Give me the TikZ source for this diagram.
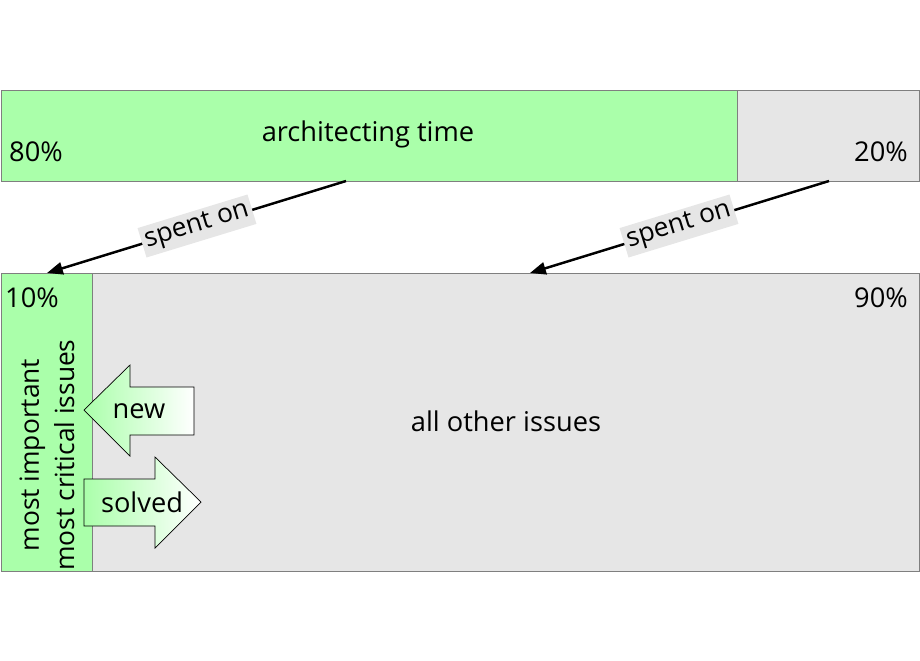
\documentclass[tikz,border=0pt]{standalone}
\usepackage{fontspec}
\setmainfont{Open Sans}
\usetikzlibrary{arrows.meta}
\definecolor{lgreen}{HTML}{AAFFAA}
\definecolor{lgray}{HTML}{E6E6E6}
\definecolor{bord}{HTML}{7F7F7F}
\begin{document}
\begin{tikzpicture}[x=0.02cm,y=-0.02cm,
  lbl/.style={font=\fontsize{15.5}{16.5}\selectfont,inner sep=0pt},
  boxg/.style={fill=lgreen,draw=bord,line width=0.4pt},
  boxy/.style={fill=lgray,draw=bord,line width=0.4pt},
  conn/.style={-{Triangle[length=9pt,width=7pt]},line width=1.4pt},
  spent/.style={fill=lgray,inner sep=2pt,font=\fontsize{15}{16}\selectfont,rotate=17},
  blk/.style={draw=black,line width=0.4pt,left color=lgreen,right color=white}]
\useasboundingbox (0,0) rectangle (920,660);
\draw[boxg] (1,90) rectangle (737,181);
\draw[boxy] (737,90) rectangle (919,181);
\draw[boxg] (1,273) rectangle (92,571);
\draw[boxy] (92,273) rectangle (919,571);
\node[lbl] (arch) at (368,134) {architecting time};
\node[lbl] (p80) at (36,152) {80\%};
\node[lbl] (p20) at (881,152) {20\%};
\node[lbl] (p10) at (32,298) {10\%};
\node[lbl] (p90) at (881,298) {90\%};
\node[lbl] (other) at (506,421) {all other issues};
\node[lbl,rotate=90,align=center,font=\fontsize{15}{20}\selectfont] (imp) at (47,455) {most important\\most critical issues};
\coordinate (a1) at (346,181); \coordinate (b1) at (47,273);
\coordinate (a2) at (829,181); \coordinate (b2) at (530,273);
\draw[conn] (a1) -- (b1);
\draw[conn] (a2) -- (b2);
\node[spent] (s1) at (197,226) {spent on};
\node[spent] (s2) at (679,226) {spent on};
\draw[blk] (84,410) -- (130,365) -- (130,387) -- (194,387) -- (194,435) -- (130,435) -- (130,456) -- cycle;
\node[lbl] (new) at (139,411) {new};
\draw[blk] (84,479) -- (155,479) -- (155,457) -- (201,502) -- (155,548) -- (155,526) -- (84,526) -- cycle;
\node[lbl] (solved) at (142,502) {solved};
\end{tikzpicture}
\end{document}
